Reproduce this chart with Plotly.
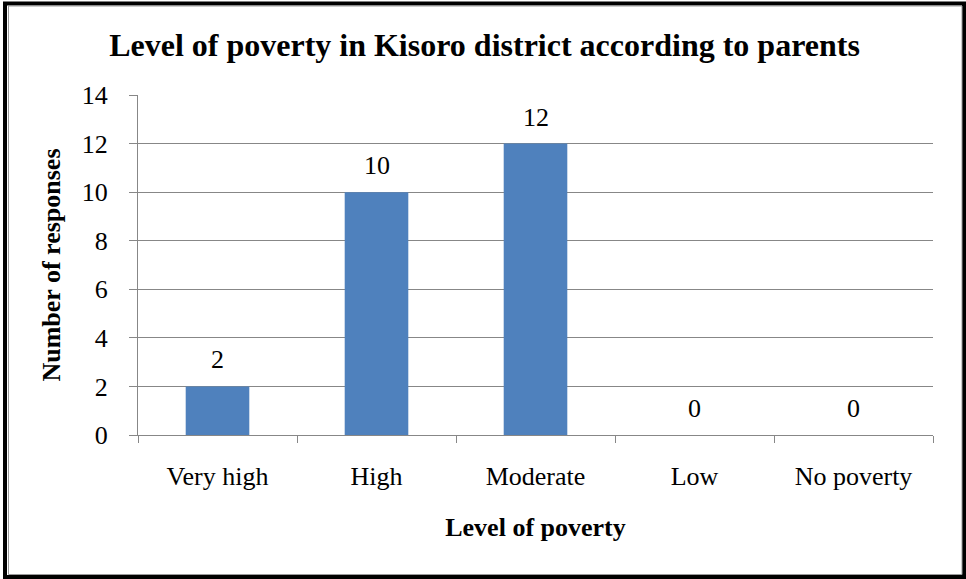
import plotly.graph_objects as go

# Survey responses: level of poverty in Kisoro district (parents)
categories = ["Very high", "High", "Moderate", "Low", "No poverty"]
responses = [2, 10, 12, 0, 0]
y_ticks = [0, 2, 4, 6, 8, 10, 12, 14]

W, H = 966, 579
ML, MR, MT, MB = 138, 33, 95, 144
PW, PH = W - ML - MR, H - MT - MB

BAR = "#4F81BD"
GRID = "#878787"
SERIF = "Liberation Serif"


def px_x(p):
    return (p - ML) / PW


def px_y(p):
    return 1 - (p - MT) / PH


fig = go.Figure(
    go.Bar(
        x=categories,
        y=responses,
        width=0.4,
        marker=dict(color=BAR, line=dict(width=0)),
        hoverinfo="x+y",
    )
)

annotations = [
    dict(
        x=c, y=v, xref="x", yref="y", text=str(v), showarrow=False,
        yanchor="bottom", yshift=10,
        font=dict(family=SERIF, size=26, color="black"),
    )
    for c, v in zip(categories, responses)
]

shapes = [
    # outer black frame
    dict(type="rect", xref="paper", yref="paper", layer="above",
         x0=px_x(5), x1=px_x(964), y0=px_y(3.5), y1=px_y(577),
         line=dict(color="black", width=4)),
    # thin grey inner edge
    dict(type="rect", xref="paper", yref="paper", layer="above",
         x0=px_x(8.5), x1=px_x(962), y0=px_y(6), y1=px_y(574.5),
         line=dict(color="#9a9a9a", width=1)),
]

fig.update_layout(
    width=W, height=H,
    margin=dict(l=ML, r=MR, t=MT, b=MB, pad=0),
    paper_bgcolor="white", plot_bgcolor="white",
    showlegend=False,
    font=dict(family=SERIF, size=26, color="black"),
    title=dict(
        text="<b>Level of poverty in Kisoro district according to parents</b>",
        x=484.5 / W, xanchor="center", xref="container",
        y=1 - 45 / H, yanchor="middle", yref="container",
        font=dict(family=SERIF, size=32, color="black"),
    ),
    xaxis=dict(
        type="category",
        tickson="boundaries",
        ticks="outside", ticklen=7, tickcolor=GRID, tickwidth=1,
        showline=True, linecolor=GRID, linewidth=1,
        showgrid=False, zeroline=False,
        ticklabelstandoff=18,
        tickfont=dict(family=SERIF, size=26, color="black"),
        title=dict(text="<b>Level of poverty</b>", standoff=27,
                   font=dict(family=SERIF, size=26, color="black")),
        fixedrange=True,
    ),
    yaxis=dict(
        range=[0, 14],
        tickvals=y_ticks,
        ticktext=[str(t) for t in y_ticks],
        ticks="outside", ticklen=8, tickcolor=GRID, tickwidth=1,
        showline=True, linecolor=GRID, linewidth=1,
        showgrid=True, gridcolor=GRID, gridwidth=1,
        zeroline=False,
        ticklabelstandoff=16,
        tickfont=dict(family=SERIF, size=26, color="black"),
        title=dict(text="<b>Number of responses</b>", standoff=13,
                   font=dict(family=SERIF, size=26, color="black")),
        fixedrange=True,
    ),
    annotations=annotations,
    shapes=shapes,
)

fig.write_html("out.html")
